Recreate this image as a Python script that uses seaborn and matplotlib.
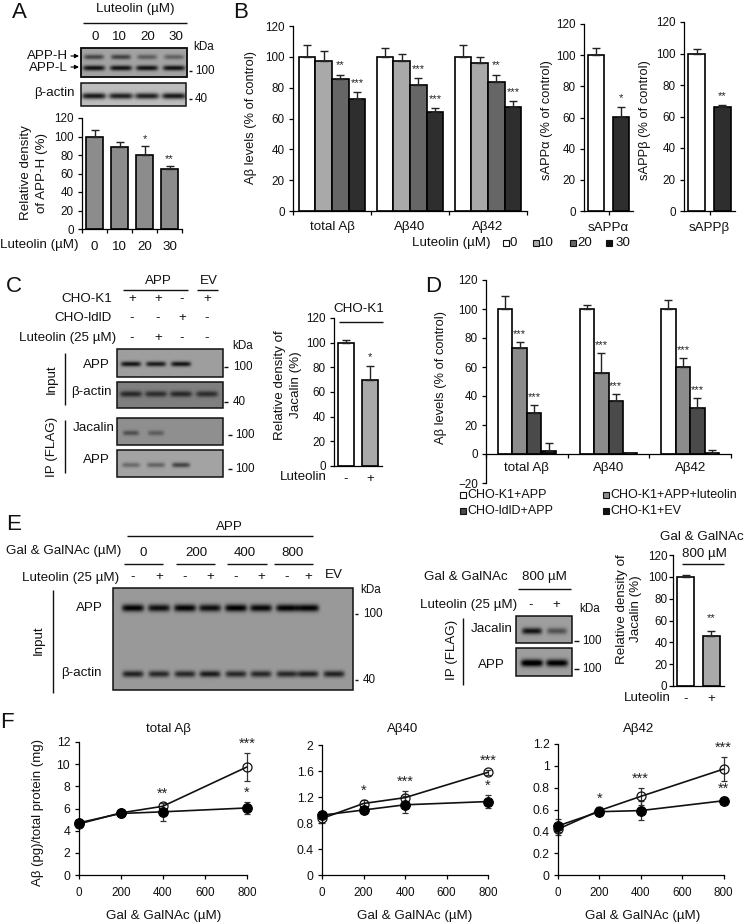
import numpy as np
import pandas as pd
import matplotlib
matplotlib.use("Agg")
import matplotlib.pyplot as plt
from matplotlib.patches import Rectangle
import seaborn as sns

W, H = 745, 923
FS = 9.6      # labels
TS = 8.4      # numeric ticks

# --- DATA ---
DOSES = ['0', '10', '20', '30']
A_VALUES = [100, 89, 80, 65]
A_ERR = [7, 5, 10, 3]
A_SIG = ['', '', '*', '**']

B_GROUPS = ['total Aβ', 'Aβ40', 'Aβ42']
B_VALUES = [100, 97, 85.5, 72.5, 100, 97, 82, 64.5, 100, 96, 84, 67.5]
B_ERR = [8, 7, 3, 4.5, 6, 5, 4.5, 2, 7.5, 4, 4.5, 4]
B_SIG = ['', '', '**', '***', '', '', '***', '***', '', '', '**', '***']

SAPPA_VALUES = [100, 60.5]
SAPPA_ERR = [4.5, 6]
SAPPA_SIG = ['', '*']
SAPPB_VALUES = [100, 66]
SAPPB_ERR = [3, 1.5]
SAPPB_SIG = ['', '**']

LUT_LABELS = ['-', '+']
C_VALUES = [100, 69.5]
C_ERR = [2.5, 11.5]
C_SIG = ['', '*']

D_SERIES = ['CHO-K1+APP', 'CHO-K1+APP+luteolin', 'CHO-ldlD+APP', 'CHO-K1+EV']
D_VALUES = [100, 73, 28.5, 2, 100, 56, 36.5, 0.5, 100, 60, 31.5, 1]
D_ERR = [9, 4, 5.5, 5.5, 3, 13.5, 5, 0.3, 6, 6, 7, 2]
D_SIG = ['', '***', '***', '', '', '***', '***', '', '', '***', '***', '']

E_VALUES = [100, 46]
E_ERR = [1.5, 4]
E_SIG = ['', '**']

F_X = [0, 200, 400, 800]
F1_OPEN = [4.6, 5.6, 6.2, 9.75]
F1_OPEN_ERR = [0.3, 0.3, 0.3, 1.25]
F1_OPEN_SIG = ['', '', '**', '***']
F1_FILLED = [4.7, 5.55, 5.7, 6.05]
F1_FILLED_ERR = [0.3, 0.2, 0.8, 0.55]
F1_FILLED_SIG = ['', '', '', '*']
F2_OPEN = [0.87, 1.1, 1.19, 1.58]
F2_OPEN_ERR = [0.07, 0.05, 0.1, 0.04]
F2_OPEN_SIG = ['', '*', '***', '***']
F2_FILLED = [0.92, 1.0, 1.08, 1.13]
F2_FILLED_ERR = [0.05, 0.05, 0.13, 0.1]
F2_FILLED_SIG = ['', '', '', '*']
F3_OPEN = [0.42, 0.59, 0.72, 0.97]
F3_OPEN_ERR = [0.05, 0.03, 0.08, 0.11]
F3_OPEN_SIG = ['', '*', '***', '***']
F3_FILLED = [0.45, 0.58, 0.59, 0.68]
F3_FILLED_ERR = [0.06, 0.02, 0.09, 0.03]
F3_FILLED_SIG = ['', '', '', '**']

# band strength of the blots, one per lane
A_APP_H = [0.40, 0.42, 0.30, 0.28]
A_APP_L = [0.58, 0.58, 0.58, 0.58]
A_ACTIN = [0.65, 0.62, 0.62, 0.65]
C_APP = [0.55, 0.52, 0.55, 0.0]
C_ACTIN = [0.35, 0.33, 0.35, 0.33]
C_JAC = [0.25, 0.20, 0.0, 0.0]
C_IP_APP = [0.22, 0.25, 0.38, 0.0]
E_APP = [0.60, 0.55, 0.60, 0.55, 0.62, 0.58, 0.60, 0.60, 0.0]
E_ACTIN = [0.55, 0.52, 0.52, 0.58, 0.52, 0.52, 0.52, 0.55, 0.55]
E2_JAC = [0.55, 0.30]
E2_APP = [0.70, 0.65]

GRAYS = ['white', '#a9a9a9', '#666666', '#2e2e2e']
D_COLORS = ['white', '#8c8c8c', '#4a4a4a', '#111111']
Y_TICKS = [0, 20, 40, 60, 80, 100, 120]

sns.set_style("ticks")
plt.rcParams['font.family'] = ['Liberation Sans', 'DejaVu Sans']
plt.rcParams.update({'font.size': FS, 'text.color': '#111111', 'axes.edgecolor': 'black',
                     'xtick.color': 'black', 'ytick.color': 'black', 'axes.labelcolor': '#111111',
                     'xtick.labelcolor': '#111111', 'ytick.labelcolor': '#111111',
                     'axes.linewidth': 0.9, 'xtick.major.width': 0.9, 'ytick.major.width': 0.9,
                     'xtick.major.size': 3, 'ytick.major.size': 3})

fig = plt.figure(figsize=(W / 100, H / 100), dpi=100, facecolor='white')

# overlay in pixel coordinates for gels, labels and rules
ov = fig.add_axes([0, 0, 1, 1], zorder=10)
ov.patch.set_alpha(0)
ov.axis('off')


def px_axes(x0, ytop, x1, ybot):
    ax = fig.add_axes([x0 / W, 1 - ybot / H, (x1 - x0) / W, (ybot - ytop) / H])
    ax.patch.set_alpha(0)
    sns.despine(ax=ax)
    return ax


def txt(x, y, s, ha='center', size=FS, rot=0, **kw):
    ov.text(x, y, s, ha=ha, va='center', fontsize=size, rotation=rot, rotation_mode='anchor',
            linespacing=1.25, **kw)


def rule(x0, y0, x1, y1, lw=1.0):
    ov.plot([x0, x1], [y0, y1], color='#111111', lw=lw, solid_capstyle='butt')


def ylab(ax, s, x, y, size=FS, spacing=1.45):
    ax.set_ylabel(s, fontsize=size, linespacing=spacing, va='center')
    ax.yaxis.set_label_coords(x, y, transform=ov.transData)


def xlab(ax, s, x, y, size=FS):
    ax.set_xlabel(s, fontsize=size, va='center')
    ax.xaxis.set_label_coords(x, y, transform=ov.transData)


def star(ax, x, y, s, px, size=8):
    if s:
        ax.annotate(s, (x, y), xytext=(0, px * 0.72), textcoords='offset points',
                    ha='center', va='center', fontsize=size, color='#222222')


def bars(ax, groups, values, errs, sigs, colors, width, series=None, ylim=(0, 120), star_px=7):
    if series is None:
        df = pd.DataFrame({'group': groups, 'value': values, 'series': groups})
        dodge = False
    else:
        df = pd.DataFrame({'group': np.repeat(groups, len(series)), 'value': values,
                           'series': list(series) * len(groups)})
        dodge = True
    sns.barplot(data=df, x='group', y='value', hue='series', palette=colors, width=width, gap=0,
                dodge=dodge, saturation=1, edgecolor='black', linewidth=1.2, errorbar=None,
                legend=False, ax=ax)
    patches = sorted(ax.patches, key=lambda p: p.get_x())
    xs = [p.get_x() + p.get_width() / 2 for p in patches]
    ax.errorbar(xs, values, yerr=[np.zeros(len(errs)), errs], fmt='none', ecolor='#222222',
                elinewidth=1.0, capsize=2.8, capthick=1.0, zorder=1)
    for x, v, e, s in zip(xs, values, errs, sigs):
        star(ax, x, v + e, s, star_px)
    ax.set_ylim(*ylim)
    ax.set_xlabel('')
    ax.set_ylabel('')
    ticks = Y_TICKS if ylim[0] == 0 else [-20] + Y_TICKS
    ax.set_yticks(ticks)
    ax.tick_params(axis='y', labelsize=TS, pad=3)


def group_ticks(ax, labels, pad):
    n = len(labels)
    ax.set_xticks(np.arange(n + 1) - 0.5, [''] * (n + 1))
    ax.set_xticks(np.arange(n), labels, minor=True)
    ax.tick_params(axis='x', which='minor', length=0, pad=pad, labelsize=FS)
    ax.set_xlim(-0.5, n - 0.5)


def blot(x0, y0, x1, y1, bg, lanes, y_band, strengths, half_w=10.0, half_h=2.5):
    xx, yy = np.meshgrid(np.arange(x0, x1, 0.5) + 0.25, np.arange(y0, y1, 0.5) + 0.25)
    img = np.full(xx.shape, float(bg))
    for lane, s in zip(lanes, strengths):
        img -= s * np.exp(-((xx - lane) / half_w) ** 6) * np.exp(-((yy - y_band) / half_h) ** 2)
    ov.imshow(np.clip(img, 0, 1), extent=(x0, x1, y1, y0), cmap='gray', vmin=0, vmax=1,
              aspect='auto', interpolation='bilinear', zorder=1)
    ov.add_patch(Rectangle((x0, y0), x1 - x0, y1 - y0, fill=False, ec='#111111', lw=1.1, zorder=2))


def add_bands(x0, y0, x1, y1, lanes, y_band, strengths, half_w=10.0, half_h=2.5):
    xx, yy = np.meshgrid(np.arange(x0, x1, 0.5) + 0.25, np.arange(y0, y1, 0.5) + 0.25)
    img = np.zeros(xx.shape)
    for lane, s in zip(lanes, strengths):
        img += s * np.exp(-((xx - lane) / half_w) ** 6) * np.exp(-((yy - y_band) / half_h) ** 2)
    rgba = np.zeros(img.shape + (4,))
    rgba[..., 3] = np.clip(img / 0.62, 0, 1) * 0.9
    ov.imshow(rgba, extent=(x0, x1, y1, y0), aspect='auto', interpolation='bilinear', zorder=1.5)


def size_tick(x0, x1, y, label, x_text):
    rule(x0, y, x1, y)
    txt(x_text, y, label, ha='left', size=TS)


# --- Panel A ---
txt(19, 12, 'A', size=16)
txt(135, 9, 'Luteolin (µM)')
rule(83, 23, 187, 23)
for x, s in zip([95, 119, 148, 176], DOSES):
    txt(x, 37, s)
txt(204, 47, 'kDa', size=8.4)
A_LANES = [94, 121, 147, 174]
blot(81, 48, 187, 77, 0.64, A_LANES, 68, A_APP_L, half_w=11, half_h=2.6)
add_bands(81, 48, 187, 77, A_LANES, 57, A_APP_H, half_w=10)
ov.add_patch(Rectangle((81, 48), 106, 29, fill=False, ec='#111111', lw=1.1, zorder=2))
blot(81, 83, 186, 106, 0.74, A_LANES, 96, A_ACTIN, half_w=12, half_h=3)
txt(48, 56, 'APP-H')
txt(48, 68, 'APP-L')
for y in (56, 67):
    ov.annotate('', xy=(79, y), xytext=(71, y),
                arrowprops=dict(arrowstyle='-|>', color='black', lw=0.8, mutation_scale=6,
                                shrinkA=0, shrinkB=0))
txt(54, 93, 'β-actin')
size_tick(189, 192, 71, '100', 195)
size_tick(189, 192, 99, '40', 195)

ax = px_axes(82, 118, 182, 229)
bars(ax, DOSES, A_VALUES, A_ERR, A_SIG, ['#8c8c8c'] * 4, 0.68)
group_ticks(ax, DOSES, 9)
ylab(ax, 'Relative density\nof APP-H (%)', 34, 173)
txt(0, 245, 'Luteolin (µM)', ha='left')

# --- Panel B ---
txt(241, 12, 'B', size=16)
ax = px_axes(293, 26, 527, 211)
bars(ax, B_GROUPS, B_VALUES, B_ERR, B_SIG, GRAYS, 0.85, series=DOSES, star_px=9)
group_ticks(ax, B_GROUPS, 7)
ylab(ax, 'Aβ levels (% of control)', 251, 118, size=9.3)

for rect, vals, errs, sigs, name, lab_x, lab_y, colors in [
        ((584, 24, 633, 211), SAPPA_VALUES, SAPPA_ERR, SAPPA_SIG, 'sAPPα', 547, 120, ['white', '#2e2e2e']),
        ((684, 22, 735, 211), SAPPB_VALUES, SAPPB_ERR, SAPPB_SIG, 'sAPPβ', 645, 120, ['white', '#2e2e2e'])]:
    ax = px_axes(*rect)
    bars(ax, ['a', 'b'], vals, errs, sigs, colors, 0.67, star_px=9)
    ax.set_xticks([0.5], [name])
    ax.tick_params(axis='x', pad=5, labelsize=FS)
    ax.set_xlim(-0.5, 1.5)
    ylab(ax, name + ' (% of control)', lab_x, lab_y, size=9.3)

txt(412, 243, 'Luteolin (µM)', ha='left')
for x_sq, x_t, s, c in zip([503, 533, 570, 606], [510, 539, 577, 615], DOSES,
                           ['white', '#a9a9a9', '#666666', '#111111']):
    ov.add_patch(Rectangle((x_sq, 240), 6, 6, fc=c, ec='#111111', lw=0.8))
    txt(x_t, 243, s, ha='left')

# --- Panel C ---
txt(14, 287, 'C', size=16)
txt(158, 281, 'APP')
rule(123, 290, 188, 290)
txt(209, 281, 'EV')
rule(197, 290, 218, 290)
C_COLS = [132, 158, 182, 207]
for y, lab, right, marks in [(299, 'CHO-K1', 112, ['+', '+', '-', '+']),
                             (318, 'CHO-ldlD', 112, ['-', '-', '+', '-']),
                             (338, 'Luteolin (25 µM)', 116, ['-', '+', '-', '-'])]:
    txt(right, y, lab, ha='right')
    for x, m in zip(C_COLS, marks):
        txt(x, y, m)
txt(243, 346, 'kDa', size=8.4)
C_LANES = [131, 156, 181, 207]
blot(117, 349, 223, 377, 0.62, C_LANES, 364, C_APP, half_w=10)
blot(117, 382, 223, 408, 0.50, C_LANES, 394, C_ACTIN, half_w=11, half_h=3)
blot(117, 418, 223, 445, 0.56, C_LANES, 433, C_JAC, half_w=8)
blot(117, 450, 223, 477, 0.64, C_LANES, 465, C_IP_APP, half_w=9)
txt(96, 365, 'APP')
txt(91, 392, 'β-actin')
txt(94, 428, 'Jacalin')
txt(96, 460, 'APP')
rule(65, 353, 65, 405)
rule(65, 420, 65, 473)
txt(52, 379, 'Input', rot=90)
txt(52, 447, 'IP (FLAG)', rot=90)
size_tick(224, 228, 367, '100', 233)
size_tick(224, 228, 402, '40', 233)
size_tick(228, 232, 435, '100', 235)
size_tick(228, 232, 469, '100', 235)

ax = px_axes(334, 318, 382, 466)
bars(ax, LUT_LABELS, C_VALUES, C_ERR, C_SIG, ['white', '#a9a9a9'], 0.67, star_px=9)
ax.tick_params(axis='x', length=0, pad=5, labelsize=FS)
ax.set_xlim(-0.5, 1.5)
ylab(ax, 'Relative density of\nJacalin (%)', 288, 385)
txt(359, 309, 'CHO-K1')
rule(339, 322, 383, 322)
txt(327, 477, 'Luteolin', ha='right')

# --- Panel D ---
txt(433, 287, 'D', size=16)
ax = px_axes(486, 280, 731, 483)
bars(ax, B_GROUPS, D_VALUES, D_ERR, D_SIG, D_COLORS, 0.71, series=D_SERIES, ylim=(-20, 120), star_px=8)
group_ticks(ax, B_GROUPS, 6)
ax.spines['bottom'].set_position(('data', 0))
ylab(ax, 'Aβ levels (% of control)', 441, 377, size=9.3)
for x_sq, y, s, c in zip([460, 603, 460, 603], [495, 495, 511, 511],
                         [D_SERIES[0], D_SERIES[1], D_SERIES[2], D_SERIES[3]], D_COLORS):
    ov.add_patch(Rectangle((x_sq, y - 3), 6, 6, fc=c, ec='#111111', lw=0.8))
    txt(x_sq + 7, y, s, ha='left', size=9)

# --- Panel E ---
txt(14, 525, 'E', size=16)
txt(229, 527, 'APP')
rule(127, 536, 313, 536)
txt(121, 551, 'Gal & GalNAc (µM)', ha='right')
for x, s, (a, b) in zip([143, 196, 245, 292], ['0', '200', '400', '800'],
                        [(124, 163), (176, 215), (227, 267), (274, 313)]):
    txt(x, 553, s)
    rule(a, 564, b, 564)
txt(119, 578, 'Luteolin (25 µM)', ha='right')
E_COLS = [133, 159, 185, 210, 236, 261, 287, 308]
for x, m in zip(E_COLS, ['-', '+'] * 4):
    txt(x, 577, m)
txt(334, 575, 'EV')
E_LANES = E_COLS + [334]
blot(113, 588, 353, 690, 0.60, E_LANES, 608, E_APP, half_w=11, half_h=3.6)
add_bands(113, 588, 353, 690, E_LANES, 674, E_ACTIN, half_w=10.5, half_h=3.2)
txt(89, 608, 'APP')
txt(81, 673, 'β-actin')
txt(39, 640, 'Input', rot=90)
rule(53, 590, 53, 693)
txt(371, 590, 'kDa', size=8.4)
size_tick(355, 358, 614, '100', 363)
size_tick(355, 358, 680, '40', 363)

txt(466, 577, 'Gal & GalNAc')
txt(544, 577, '800 µM')
rule(518, 589, 571, 589)
txt(517, 605, 'Luteolin (25 µM)', ha='right')
txt(531, 605, '-')
txt(556, 605, '+')
txt(590, 609, 'kDa', size=8.4)
E2_LANES = [532, 557]
blot(516, 616, 572, 643, 0.62, E2_LANES, 631, E2_JAC, half_w=10, half_h=3.2)
blot(516, 648, 572, 676, 0.62, E2_LANES, 663, E2_APP, half_w=11, half_h=3.6)
txt(492, 629, 'Jacalin')
txt(491, 665, 'APP')
rule(463, 618, 463, 685)
txt(452, 650, 'IP (FLAG)', rot=90)
size_tick(574, 579, 641, '100', 582)
size_tick(574, 579, 669, '100', 582)

ax = px_axes(673, 555, 724, 686)
bars(ax, LUT_LABELS, E_VALUES, E_ERR, E_SIG, ['white', '#a9a9a9'], 0.68, star_px=13)
ax.tick_params(axis='x', length=0, pad=5, labelsize=FS)
ax.tick_params(axis='y', pad=1)
ax.set_xlim(-0.5, 1.5)
ylab(ax, 'Relative density of\nJacalin (%)', 629, 609, spacing=1.3)
txt(702, 537, 'Gal & GalNAc')
txt(704, 554, '800 µM')
rule(682, 564, 724, 564)
txt(671, 698, 'Luteolin', ha='right')

# --- Panel F ---
txt(7, 722, 'F', size=16)
F_PANELS = [
    ((78.5, 742, 247, 875), 'total Aβ', 168, 164, (0, 12), [0, 2, 4, 6, 8, 10, 12], ['0', '2', '4', '6', '8', '10', '12'],
     F1_OPEN, F1_OPEN_ERR, F1_OPEN_SIG, F1_FILLED, F1_FILLED_ERR, F1_FILLED_SIG),
    ((322, 745, 488, 875), 'Aβ40', 403, 415, (0, 2), [0, 0.4, 0.8, 1.2, 1.6, 2], ['0', '0.4', '0.8', '1.2', '1.6', '2'],
     F2_OPEN, F2_OPEN_ERR, F2_OPEN_SIG, F2_FILLED, F2_FILLED_ERR, F2_FILLED_SIG),
    ((558, 744, 723.5, 875), 'Aβ42', 639, 643, (0, 1.2), [0, 0.2, 0.4, 0.6, 0.8, 1, 1.2], ['0', '0.2', '0.4', '0.6', '0.8', '1', '1.2'],
     F3_OPEN, F3_OPEN_ERR, F3_OPEN_SIG, F3_FILLED, F3_FILLED_ERR, F3_FILLED_SIG),
]
for rect, title, t_x, l_x, ylim, yt, ytl, op, op_e, op_s, fi, fi_e, fi_s in F_PANELS:
    ax = px_axes(*rect)
    ax.errorbar(F_X, op, yerr=op_e, fmt='none', ecolor='#333333', elinewidth=0.9, capsize=2.5,
                capthick=0.9, clip_on=False)
    ax.errorbar(F_X, fi, yerr=fi_e, fmt='none', ecolor='#333333', elinewidth=0.9, capsize=2.5,
                capthick=0.9, clip_on=False)
    sns.lineplot(x=F_X, y=op, color='#111111', lw=1.2, marker='o', markersize=6.5,
                 markerfacecolor='none', markeredgecolor='#111111', markeredgewidth=0.9,
                 errorbar=None, clip_on=False, ax=ax)
    sns.lineplot(x=F_X, y=fi, color='#111111', lw=1.2, marker='o', markersize=7,
                 markerfacecolor='black', markeredgecolor='black', errorbar=None,
                 clip_on=False, ax=ax)
    for x, v, e, s in zip(F_X, op, op_e, op_s):
        star(ax, x, v + e, s, 9, size=10.5)
    for x, v, e, s in zip(F_X, fi, fi_e, fi_s):
        star(ax, x, v + e, s, 9, size=10.5)
    ax.set_xlim(0, 800)
    ax.set_ylim(*ylim)
    ax.set_xticks([0, 200, 400, 600, 800])
    ax.set_yticks(yt, ytl)
    ax.tick_params(axis='x', pad=6, labelsize=TS)
    ax.tick_params(axis='y', pad=3, labelsize=8.8)
    xlab(ax, 'Gal & GalNAc (µM)', l_x, 916)
    txt(t_x, 729, title)
    if title == 'total Aβ':
        ylab(ax, 'Aβ (pg)/total protein (mg)', 38, 812, size=9.5)

ov.set_xlim(0, W)
ov.set_ylim(H, 0)
fig.savefig('out.png', dpi=100)
